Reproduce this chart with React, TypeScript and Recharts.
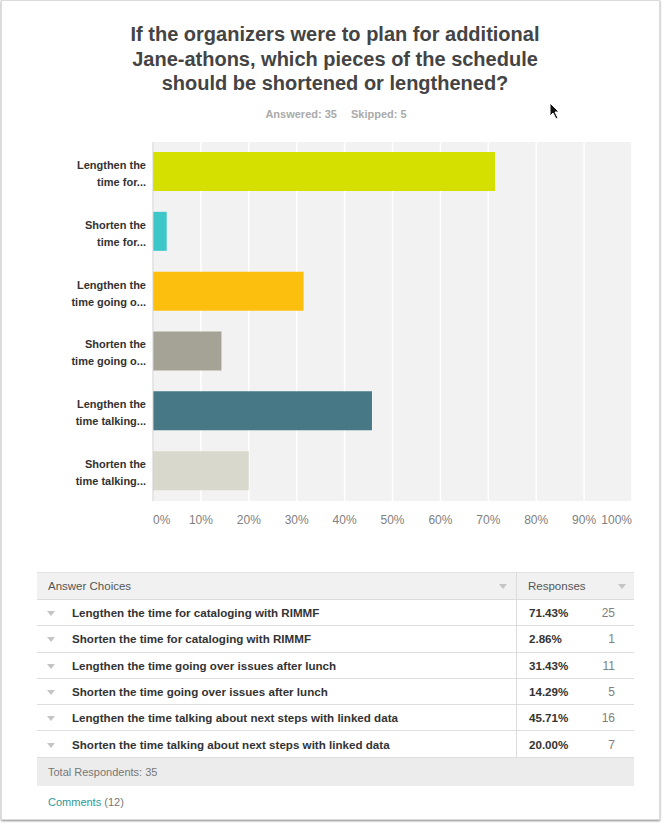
import React from "react";
import { BarChart, Bar, XAxis, YAxis, CartesianGrid, Cell } from "recharts";

const CHOICES = [
  "Lengthen the time for cataloging with RIMMF",
  "Shorten the time for cataloging with RIMMF",
  "Lengthen the time going over issues after lunch",
  "Shorten the time going over issues after lunch",
  "Lengthen the time talking about next steps with linked data",
  "Shorten the time talking about next steps with linked data",
];

const SHORT_LABELS = [
  ["Lengthen the", "time for..."],
  ["Shorten the", "time for..."],
  ["Lengthen the", "time going o..."],
  ["Shorten the", "time going o..."],
  ["Lengthen the", "time talking..."],
  ["Shorten the", "time talking..."],
];

const PERCENTS = [71.43, 2.86, 31.43, 14.29, 45.71, 20.0];
const COUNTS = [25, 1, 11, 5, 16, 7];
const X_TICKS = [0, 10, 20, 30, 40, 50, 60, 70, 80, 90, 100];

const ANSWERED = 35;
const SKIPPED = 5;
const COMMENTS = 12;

const BAR_COLORS = ["#d5df00", "#3ec7c9", "#fcbf0e", "#a4a395", "#467885", "#d9d8cc"];

const FONT = "'Liberation Sans', Arial, Helvetica, sans-serif";

const data = CHOICES.map((name, i) => ({
  name,
  short: SHORT_LABELS[i],
  value: PERCENTS[i],
}));

function YTick(props: any) {
  const { x, y, payload } = props;
  const lines = SHORT_LABELS[payload.index] || [];
  return (
    <text
      x={x}
      y={y}
      textAnchor="end"
      fill="#333"
      fontSize={11}
      fontWeight="bold"
      fontFamily={FONT}
    >
      <tspan x={x} y={y - 7} dominantBaseline="central">
        {lines[0]}
      </tspan>
      <tspan x={x} y={y + 10} dominantBaseline="central">
        {lines[1]}
      </tspan>
    </text>
  );
}

function XTick(props: any) {
  const { x, y, payload } = props;
  let anchor = "middle";
  if (payload.value === 0) anchor = "start";
  if (payload.value === 100) anchor = "end";
  return (
    <text
      x={x}
      y={y + 19}
      textAnchor={anchor}
      dominantBaseline="central"
      fill="#808080"
      fontSize={12}
      fontFamily={FONT}
    >
      {payload.value}%
    </text>
  );
}

const Arrow = ({ left, top }: { left: number; top: number }) => (
  <svg
    width="8"
    height="6"
    style={{ position: "absolute", left, top }}
  >
    <polygon points="0,0 8,0 4,5" fill="#c4c4c4" />
  </svg>
);

const ROW_TOP = 600;
const ROW_H = 26.3;

export default function App() {
  return (
    <div
      style={{
        position: "absolute",
        left: 0,
        top: 0,
        width: 664,
        height: 824,
        background: "#fff",
        fontFamily: FONT,
      }}
    >
      <div
        style={{
          position: "absolute",
          left: 1,
          top: 0,
          width: 657,
          height: 818,
          border: "1px solid #dcdcdc",
          boxShadow: "0 1px 2px rgba(0,0,0,0.45)",
        }}
      />

      <div
        style={{
          position: "absolute",
          left: 0,
          top: 22,
          width: 670,
          textAlign: "center",
          fontSize: 20,
          fontWeight: "bold",
          color: "#444",
          lineHeight: "24.5px",
        }}
      >
        If the organizers were to plan for additional
        <br />
        Jane-athons, which pieces of the schedule
        <br />
        should be shortened or lengthened?
      </div>

      <div
        style={{
          position: "absolute",
          left: 0,
          top: 108,
          width: 672,
          textAlign: "center",
          fontSize: 11,
          fontWeight: "bold",
          color: "#aaa",
        }}
      >
        Answered: {ANSWERED}
        <span style={{ display: "inline-block", width: 14 }} />
        Skipped: {SKIPPED}
      </div>

      <svg
        width="12"
        height="18"
        style={{ position: "absolute", left: 549, top: 102 }}
      >
        <polygon
          points="1,1 1,14 4,11 7,17 9,16 6,10 10,10"
          fill="#111"
          stroke="#fff"
          strokeWidth="1"
        />
      </svg>

      <div style={{ position: "absolute", left: 0, top: 130 }}>
        <BarChart
          width={664}
          height={410}
          data={data}
          layout="vertical"
          margin={{ top: 12, right: 32, bottom: 9, left: 0 }}
          barSize={39}
        >
          <CartesianGrid
            horizontal={false}
            fill="#f2f2f2"
            stroke="#ffffff"
            strokeWidth={1.5}
          />
          <XAxis
            type="number"
            domain={[0, 100]}
            ticks={X_TICKS}
            axisLine={false}
            tickLine={false}
            tickSize={0}
            tickMargin={0}
            height={30}
            tick={<XTick />}
            interval={0}
          />
          <YAxis
            type="category"
            dataKey="name"
            width={153}
            axisLine={{ stroke: "#cfcfcf" }}
            tickLine={false}
            tickSize={0}
            tickMargin={7}
            tick={<YTick />}
            interval={0}
          />
          <Bar dataKey="value" isAnimationActive={false}>
            {data.map((d, i) => (
              <Cell key={d.name} fill={BAR_COLORS[i]} />
            ))}
          </Bar>
        </BarChart>
      </div>

      {/* answer table */}
      <div
        style={{
          position: "absolute",
          left: 37,
          top: 572,
          width: 597,
          height: 28,
          background: "#f1f1f1",
          borderTop: "1px solid #e2e2e2",
          borderBottom: "1px solid #dcdcdc",
          boxSizing: "border-box",
          fontSize: 11.5,
          color: "#555",
        }}
      >
        <span style={{ position: "absolute", left: 11, top: 7 }}>Answer Choices</span>
        <span style={{ position: "absolute", left: 491, top: 7 }}>Responses</span>
      </div>
      <Arrow left={499} top={584} />
      <Arrow left={618} top={584} />

      {CHOICES.map((c, i) => {
        const top = ROW_TOP + i * ROW_H;
        return (
          <div
            key={c}
            style={{
              position: "absolute",
              left: 37,
              top,
              width: 597,
              height: ROW_H,
              borderBottom: "1px solid #dedede",
              boxSizing: "border-box",
            }}
          >
            <svg
              width="8"
              height="6"
              style={{ position: "absolute", left: 10, top: 11 }}
            >
              <polygon points="0,0 8,0 4,5" fill="#c4c4c4" />
            </svg>
            <span
              style={{
                position: "absolute",
                left: 35,
                top: 6,
                fontSize: 11.6,
                fontWeight: "bold",
                color: "#333",
              }}
            >
              {c}
            </span>
            <span
              style={{
                position: "absolute",
                left: 492,
                top: 6,
                fontSize: 11.6,
                fontWeight: "bold",
                color: "#333",
              }}
            >
              {PERCENTS[i].toFixed(2)}%
            </span>
            <span
              style={{
                position: "absolute",
                right: 19,
                top: 6,
                fontSize: 12,
                color: "#808080",
              }}
            >
              {COUNTS[i]}
            </span>
          </div>
        );
      })}
      <div
        style={{
          position: "absolute",
          left: 516,
          top: 572,
          width: 1,
          height: ROW_TOP + CHOICES.length * ROW_H - 572,
          background: "#dcdcdc",
        }}
      />

      <div
        style={{
          position: "absolute",
          left: 37,
          top: ROW_TOP + CHOICES.length * ROW_H,
          width: 597,
          height: 28,
          background: "#ececec",
          fontSize: 11,
          color: "#777",
        }}
      >
        <span style={{ position: "absolute", left: 11, top: 8 }}>
          Total Respondents: {ANSWERED}
        </span>
      </div>

      <div
        style={{
          position: "absolute",
          left: 48,
          top: 796,
          fontSize: 11,
          color: "#777",
        }}
      >
        <span style={{ color: "#2a9a9c" }}>Comments</span> ({COMMENTS})
      </div>
    </div>
  );
}
